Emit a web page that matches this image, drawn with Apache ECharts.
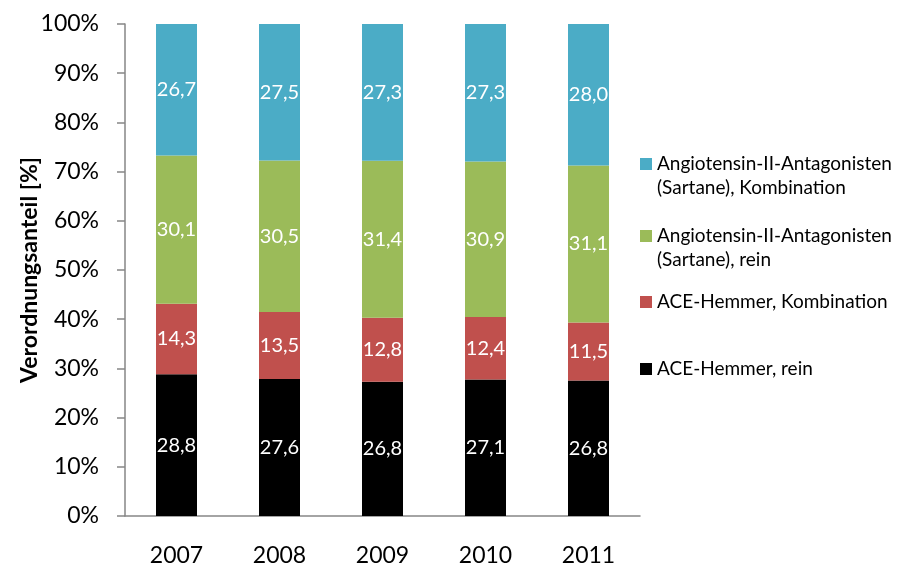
<!DOCTYPE html>
<html>
<head>
<meta charset="utf-8">
<script src="https://cdn.jsdelivr.net/npm/echarts@6/dist/echarts.min.js"></script>
<style>
  html, body { margin: 0; padding: 0; background: #fff; }
  #chart { width: 905px; height: 567px; }
</style>
</head>
<body>
<div id="chart"></div>
<script>
const years = ['2007', '2008', '2009', '2010', '2011'];
const aceRein = [28.8, 27.6, 26.8, 27.1, 26.8];
const aceKomb = [14.3, 13.5, 12.8, 12.4, 11.5];
const sartRein = [30.1, 30.5, 31.4, 30.9, 31.1];
const sartKomb = [26.7, 27.5, 27.3, 27.3, 28.0];

const names = [
  'ACE-Hemmer, rein',
  'ACE-Hemmer, Kombination',
  'Angiotensin-II-Antagonisten\n(Sartane), rein',
  'Angiotensin-II-Antagonisten\n(Sartane), Kombination'
];
const colors = ['#000000', '#C0504D', '#9BBB59', '#4BACC6'];
const allSeries = [aceRein, aceKomb, sartRein, sartKomb];

// 100% gestapelt: jeder Jahrgang auf Summe 100 normiert, Label zeigt Rohwert
const totals = years.map((y, i) => allSeries.reduce((s, arr) => s + arr[i], 0));

const font = 'Lato, "Open Sans", sans-serif';

let chart = echarts.init(document.getElementById('chart'));

// Icon für zweizeilige Legenden: Quadrat auf Höhe der ersten Zeile
const twoLineIcon = 'path://M0,0L0,0M0,6h12v12h-12zM0,48L0,48';

function legend(name, top, twoLine) {
  return {
    data: [name],
    left: 640,
    top: top,
    padding: 0,
    orient: 'vertical',
    itemWidth: 12,
    itemHeight: twoLine ? 48 : 12,
    icon: twoLine ? twoLineIcon : 'rect',
    itemGap: 5,
    selectedMode: false,
    textStyle: { fontFamily: font, fontSize: 19, lineHeight: 24, color: '#000' }
  };
}

let option = {
  animation: false,
  color: colors,
  grid: { left: 125, right: 265, top: 24, bottom: 51 },
  legend: [
    legend(names[3], 152, true),
    legend(names[2], 224, true),
    legend(names[1], 290, false),
    legend(names[0], 357, false)
  ],
  xAxis: {
    type: 'category',
    data: years,
    axisLine: { lineStyle: { color: '#868686', width: 1.5 } },
    axisTick: { length: 8, lineStyle: { color: '#868686', width: 1.5 } },
    axisLabel: { color: '#000', fontFamily: font, fontSize: 23, margin: 28 }
  },
  yAxis: {
    type: 'value',
    min: 0,
    max: 100,
    interval: 10,
    name: 'Verordnungsanteil [%]',
    nameLocation: 'middle',
    nameGap: 84,
    nameMoveOverlap: false,
    nameTextStyle: { color: '#000', fontFamily: font, fontSize: 23, fontWeight: 'bold' },
    axisLine: { show: true, lineStyle: { color: '#868686', width: 1.5 } },
    axisTick: { show: true, length: 8, lineStyle: { color: '#868686', width: 1.5 } },
    splitLine: { show: false },
    axisLabel: { color: '#000', fontFamily: font, fontSize: 23, margin: 26, formatter: '{value}%' }
  },
  series: allSeries.map((arr, k) => ({
    name: names[k],
    type: 'bar',
    stack: 'total',
    barWidth: 41,
    data: arr.map((v, i) => ({ value: v / totals[i] * 100, raw: v })),
    label: {
      show: true,
      position: 'inside',
      color: '#fff',
      fontFamily: font,
      fontSize: 20,
      formatter: p => p.data.raw.toFixed(1).replace('.', ',')
    }
  }))
};

chart.setOption(option);
</script>
</body>
</html>
